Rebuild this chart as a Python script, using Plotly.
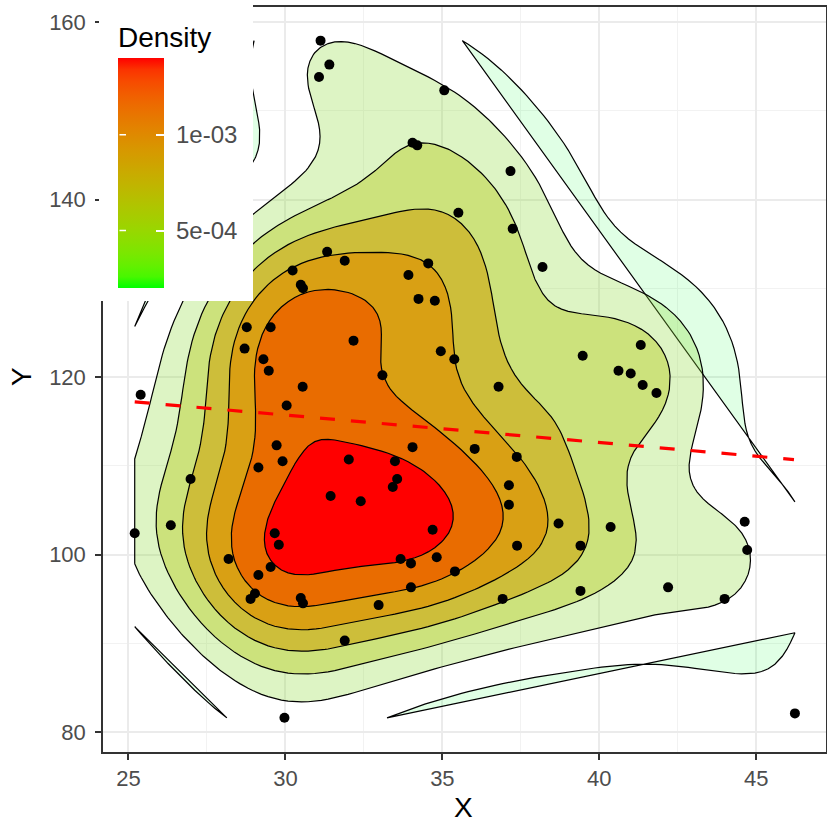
import numpy as np
import plotly.graph_objects as go
from collections import defaultdict

# ---------------- data ----------------
pt_x = [31.12, 31.40, 31.07, 35.06, 34.05, 34.20, 37.17, 35.51, 37.24, 31.33,
        31.89, 34.55, 30.23, 30.49, 30.56, 33.92, 34.24, 34.76, 38.19, 28.77,
        29.53, 28.70, 29.30, 29.47, 32.17, 30.55, 30.04, 25.39, 29.72, 29.91,
        29.14, 32.02, 26.98, 31.44, 34.95, 35.38, 33.09, 39.47, 36.79, 34.05,
        36.03, 37.37, 33.49, 33.56, 33.42, 32.40, 37.12, 37.12, 41.32, 40.61,
        41.00, 41.38, 41.82, 25.20, 26.35, 29.66, 29.79, 28.19, 29.53, 29.14,
        29.03, 28.89, 30.49, 30.56, 31.89, 29.97, 34.69, 33.67, 34.00, 34.82,
        35.40, 34.00, 32.97, 38.70, 37.38, 39.40, 36.92, 39.40, 40.36, 44.63,
        44.71, 42.19, 43.99, 46.23]
pt_y = [157.9, 155.2, 153.8, 152.3, 146.4, 146.1, 143.2, 138.5, 136.7, 134.1,
        133.1, 132.8, 132.0, 130.4, 130.0, 131.5, 128.8, 128.6, 132.4, 125.6,
        125.6, 123.2, 122.0, 120.7, 124.1, 118.9, 116.8, 118.0, 112.3, 110.5,
        109.8, 110.7, 108.5, 106.6, 122.9, 122.0, 120.2, 122.4, 118.9, 112.1,
        111.9, 111.0, 110.5, 108.5, 107.6, 106.0, 107.8, 105.6, 123.6, 120.7,
        120.4, 119.1, 118.2, 102.4, 103.3, 102.4, 101.1, 99.5, 98.6, 97.7,
        95.6, 95.0, 95.1, 94.5, 90.3, 81.6, 102.8, 99.5, 99.0, 99.7,
        98.1, 96.3, 94.3, 103.5, 101.0, 101.0, 95.0, 95.9, 103.1, 103.7,
        100.5, 96.3, 95.0, 82.1]

# dashed trend line (end points)
fit_x = [25.2, 46.2]
fit_y = [117.2, 110.7]

# density contour levels (legend range 2e-04 .. 1.4e-03)
levels = [2e-4, 4e-4, 6e-4, 8e-4, 1.0e-3, 1.2e-3, 1.4e-3]
# fill used for the polygons of each level (as seen in the picture)
level_fills = ["rgba(0,255,40,0.12)", "rgba(142,218,58,0.30)", "#CCE27C",
               "#CDBE3A", "#D9A014", "#E96C00", "#FF0000"]

cbar_ticks = [5e-4, 1e-3]
cbar_text = ["5e-04", "1e-03"]
grad_low, grad_high = "#00FF00", "#FF0000"
x_ticks = [25, 30, 35, 40, 45]
y_ticks = [80, 100, 120, 140, 160]

FONT = "Liberation Sans, Arial, sans-serif"

# ---------------- helpers ----------------
def bw_nrd(v):
    q1, q3 = np.percentile(v, [25, 75])
    return 4 * 1.06 * min(np.std(v, ddof=1), (q3 - q1) / 1.34) * len(v) ** (-0.2)

def kde2d(x, y, n=100):
    hx, hy = bw_nrd(x) / 4, bw_nrd(y) / 4
    gx = np.linspace(x.min(), x.max(), n)
    gy = np.linspace(y.min(), y.max(), n)
    phi = lambda u: np.exp(-0.5 * u * u) / np.sqrt(2 * np.pi)
    ax = phi((gx[:, None] - x[None, :]) / hx)
    ay = phi((gy[:, None] - y[None, :]) / hy)
    z = ay @ ax.T / (len(x) * hx * hy)
    return gx, gy, z

def isolines(gx, gy, z, level):
    ny, nx = z.shape
    ab = z >= level

    def pt(e):
        kind, i, j = e
        if kind == "h":
            z0, z1 = z[j, i], z[j, i + 1]
            t = (level - z0) / (z1 - z0)
            return gx[i] + t * (gx[i + 1] - gx[i]), gy[j]
        z0, z1 = z[j, i], z[j + 1, i]
        t = (level - z0) / (z1 - z0)
        return gx[i], gy[j] + t * (gy[j + 1] - gy[j])

    segs = []
    for j in range(ny - 1):
        for i in range(nx - 1):
            b0, b1, b2, b3 = ab[j, i], ab[j, i + 1], ab[j + 1, i + 1], ab[j + 1, i]
            ed = []
            if b0 != b1: ed.append(("h", i, j))
            if b1 != b2: ed.append(("v", i + 1, j))
            if b3 != b2: ed.append(("h", i, j + 1))
            if b0 != b3: ed.append(("v", i, j))
            if len(ed) == 2:
                segs.append((ed[0], ed[1]))
            elif len(ed) == 4:
                c = (z[j, i] + z[j, i + 1] + z[j + 1, i + 1] + z[j + 1, i]) / 4
                if (c >= level) == b0:
                    segs += [(ed[0], ed[1]), (ed[2], ed[3])]
                else:
                    segs += [(ed[0], ed[3]), (ed[1], ed[2])]
    adj = defaultdict(list)
    for k, (a, b) in enumerate(segs):
        adj[a].append(k)
        adj[b].append(k)
    used = [False] * len(segs)

    def walk(e):
        path = [e]
        cur = e
        while True:
            nxt = next((k for k in adj[cur] if not used[k]), None)
            if nxt is None:
                break
            used[nxt] = True
            a, b = segs[nxt]
            cur = b if a == cur else a
            path.append(cur)
        return path

    lines = []
    for e in list(adj.keys()):
        if len(adj[e]) == 1 and not used[adj[e][0]]:
            lines.append(walk(e))
    for k in range(len(segs)):
        if not used[k]:
            lines.append(walk(segs[k][0]))
    out = []
    for p in lines:
        pts = [pt(e) for e in p]
        out.append(([q[0] for q in pts], [q[1] for q in pts]))
    return out

M = np.array([[0.4124, 0.3576, 0.1805], [0.2126, 0.7152, 0.0722], [0.0193, 0.1192, 0.9505]])
Minv = np.linalg.inv(M)
WN = np.array([0.95047, 1.0, 1.08883])

def hex2lab(h):
    c = np.array([int(h[i:i + 2], 16) for i in (1, 3, 5)]) / 255.0
    lin = np.where(c <= 0.04045, c / 12.92, ((c + 0.055) / 1.055) ** 2.4)
    xyz = M @ lin / WN
    d = 6 / 29
    f = np.where(xyz > d ** 3, np.cbrt(xyz), xyz / (3 * d * d) + 4 / 29)
    return np.array([116 * f[1] - 16, 500 * (f[0] - f[1]), 200 * (f[1] - f[2])])

def lab2hex(lab):
    L, a, b = lab
    fy = (L + 16) / 116
    f = np.array([fy + a / 500, fy, fy - b / 200])
    d = 6 / 29
    xyz = np.where(f > d, f ** 3, 3 * d * d * (f - 4 / 29)) * WN
    lin = np.clip(Minv @ xyz, 0, 1)
    c = np.where(lin <= 0.0031308, 12.92 * lin, 1.055 * lin ** (1 / 2.4) - 0.055)
    c = np.clip(np.round(c * 255), 0, 255).astype(int)
    return "#%02X%02X%02X" % tuple(c)

lab_lo, lab_hi = hex2lab(grad_low), hex2lab(grad_high)
grad = [[float(t), lab2hex(lab_lo + (lab_hi - lab_lo) * t)] for t in np.linspace(0, 1, 21)]

# ---------------- figure ----------------
gx, gy, z = kde2d(np.array(pt_x), np.array(pt_y))

fig = go.Figure()
for lev, fc in zip(levels, level_fills):
    for xs, ys in isolines(gx, gy, z, lev):
        if len(xs) < 2:
            continue
        xs = xs + [xs[0]]
        ys = ys + [ys[0]]
        fig.add_trace(go.Scatter(
            x=xs, y=ys, mode="lines", fill="toself", fillcolor=fc,
            line=dict(color="black", width=1.2),
            hoverinfo="skip", showlegend=False,
        ))

fig.add_trace(go.Scatter(
    x=fit_x, y=fit_y, mode="lines",
    line=dict(color="#FF0000", width=3.2, dash="15px,16px"),
    hoverinfo="skip", showlegend=False,
))
fig.add_trace(go.Scatter(
    x=pt_x, y=pt_y, mode="markers",
    marker=dict(color="black", size=10),
    hoverinfo="skip", showlegend=False,
))

# layout geometry (pixels)
W, H = 827, 825
L_, R_, T_, B_ = 103, 1, 7, 73
pw, ph = W - L_ - R_, H - T_ - B_
fx = lambda p: (p - L_) / pw
fy = lambda p: (H - B_ - p) / ph

# legend background box
fig.add_shape(type="rect", xref="paper", yref="paper",
              x0=fx(99), x1=fx(253), y0=fy(301), y1=fy(-2),
              fillcolor="white", line=dict(width=0), layer="above")

bar_top, bar_bot, bar_l, bar_w = 58, 288, 118, 46
fig.add_trace(go.Scatter(
    x=[None], y=[None], mode="markers", showlegend=False, hoverinfo="skip",
    marker=dict(color=[levels[0]], cmin=levels[0], cmax=levels[-1], colorscale=grad,
                showscale=True,
                colorbar=dict(
                    x=fx(bar_l), xanchor="left", xpad=0,
                    y=fy(bar_top), yanchor="top", ypad=0,
                    lenmode="pixels", len=bar_bot - bar_top, thicknessmode="pixels", thickness=bar_w,
                    outlinewidth=0,
                    tickvals=cbar_ticks, ticktext=cbar_text, showticklabels=False,
                    ticks="inside", ticklen=8, tickcolor="white", tickwidth=1.5,
                )),
))
for v, lab in zip(cbar_ticks, cbar_text):
    yy = bar_bot - (v - levels[0]) / (levels[-1] - levels[0]) * (bar_bot - bar_top)
    # white tick on the left edge of the colour bar
    fig.add_annotation(x=fx(bar_l + 8), y=fy(yy), ax=-8, ay=0, xref="paper", yref="paper",
                       axref="pixel", ayref="pixel", text="", showarrow=True, arrowhead=0,
                       arrowwidth=1.5, arrowcolor="white", standoff=0, startstandoff=0)
    fig.add_annotation(x=fx(bar_l + bar_w + 10), y=fy(yy), xref="paper", yref="paper",
                       text=lab, showarrow=False, xanchor="left", yanchor="middle",
                       font=dict(family=FONT, size=24, color="#4D4D4D"))

fig.add_annotation(text="Density", xref="paper", yref="paper", x=fx(116), y=fy(37),
                   xanchor="left", yanchor="middle", showarrow=False,
                   font=dict(family=FONT, size=28, color="black"))
# axis titles
fig.add_annotation(text="X", xref="paper", yref="paper", x=fx(463), y=fy(824),
                   xanchor="center", yanchor="bottom", showarrow=False, borderpad=0,
                   font=dict(family=FONT, size=28, color="black"))
fig.add_annotation(text="Y", xref="paper", yref="paper", x=fx(22), y=fy(377),
                   xanchor="center", yanchor="middle", showarrow=False, textangle=-90,
                   font=dict(family=FONT, size=28, color="black"))

axis_common = dict(
    showgrid=True, gridcolor="#EBEBEB", gridwidth=1.5,
    showline=True, linecolor="#333333", linewidth=1.5, mirror=True,
    ticks="outside", ticklen=6, tickwidth=1.5, tickcolor="#333333",
    tickfont=dict(family=FONT, size=22, color="#4D4D4D"),
    zeroline=False, automargin=False,
)
fig.update_xaxes(range=[24.19, 47.22], tickvals=x_ticks,
                 minor=dict(tickvals=[27.5, 32.5, 37.5, 42.5], showgrid=True, gridcolor="#F2F2F2", gridwidth=1, ticks=""),
                 **axis_common)
fig.update_yaxes(range=[77.75, 161.69], tickvals=y_ticks,
                 minor=dict(tickvals=[90, 110, 130, 150], showgrid=True, gridcolor="#F2F2F2", gridwidth=1, ticks=""),
                 ticklabelstandoff=5,
                 **axis_common)
fig.update_layout(
    width=W, height=H, margin=dict(l=L_, r=R_, t=T_, b=B_, pad=0, autoexpand=False),
    paper_bgcolor="white", plot_bgcolor="white", showlegend=False,
)
fig.write_html("out.html")
